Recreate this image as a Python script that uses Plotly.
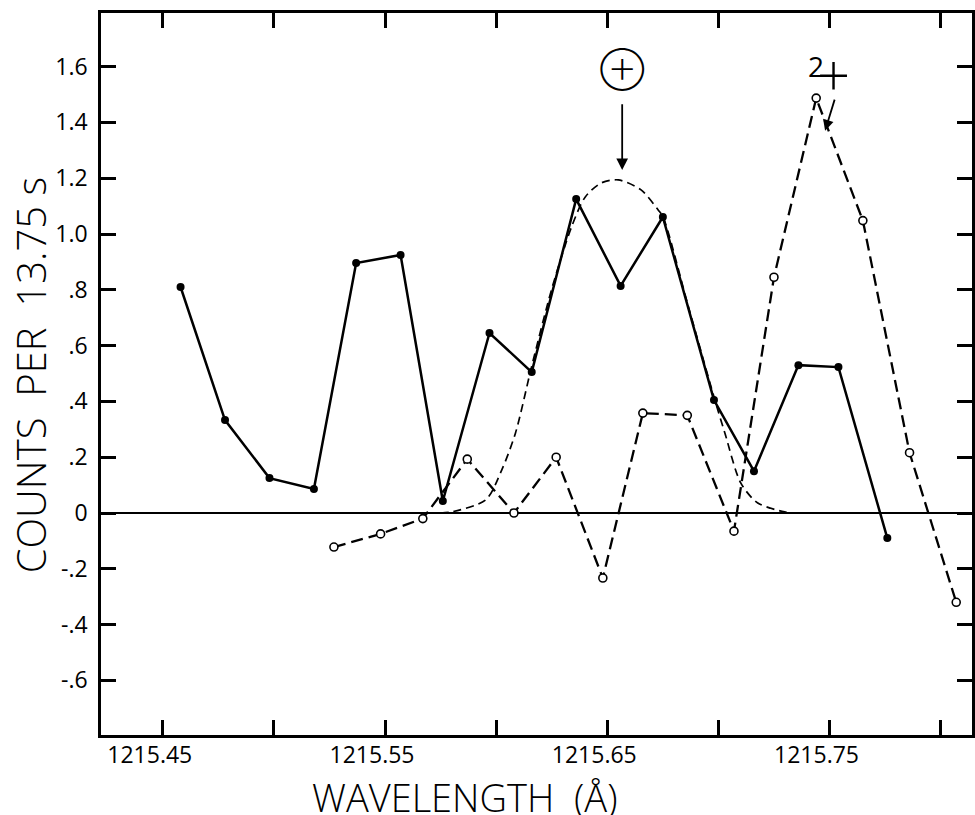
import plotly.graph_objects as go

# Filled points (solid line)
solid_x = [1215.458, 1215.478, 1215.498, 1215.518, 1215.537, 1215.557, 1215.576,
           1215.597, 1215.616, 1215.636, 1215.656, 1215.675, 1215.698, 1215.716,
           1215.736, 1215.754, 1215.776]
solid_y = [0.81, 0.333, 0.125, 0.086, 0.896, 0.925, 0.043,
           0.645, 0.505, 1.125, 0.814, 1.061, 0.405, 0.15,
           0.53, 0.523, -0.09]

# Open points (dashed line)
open_x = [1215.527, 1215.548, 1215.567, 1215.587, 1215.608, 1215.627, 1215.648,
          1215.666, 1215.686, 1215.707, 1215.725, 1215.744, 1215.765, 1215.786,
          1215.807]
open_y = [-0.122, -0.075, -0.02, 0.193, 0.0, 0.2, -0.233,
          0.358, 0.35, -0.065, 0.845, 1.487, 1.048, 0.216,
          -0.32]

# Fitted profile (fine dashed curve)
fit_x = [1215.575, 1215.580, 1215.5953, 1215.6025, 1215.6087, 1215.6159, 1215.6249,
         1215.6339, 1215.6401, 1215.6473, 1215.6549, 1215.6652, 1215.6729,
         1215.6751, 1215.6863, 1215.6984, 1215.7029, 1215.7101, 1215.7177,
         1215.7298, 1215.7343]
fit_y = [0.0, 0.004, 0.047, 0.154, 0.287, 0.523, 0.80,
         1.025, 1.133, 1.183, 1.194, 1.158, 1.086,
         1.061, 0.745, 0.405, 0.287, 0.107, 0.036,
         0.004, 0.0]

x_tickvals = [1215.45, 1215.50, 1215.55, 1215.60, 1215.65, 1215.70, 1215.75, 1215.80]
x_ticktext = ["1215.45", "", "1215.55", "", "1215.65", "", "1215.75", ""]
y_tickvals = [-0.6, -0.4, -0.2, 0, 0.2, 0.4, 0.6, 0.8, 1.0, 1.2, 1.4, 1.6]
y_ticktext = ["-.6", "-.4", "-.2", "0", ".2", ".4", ".6", ".8", "1.0", "1.2", "1.4", "1.6"]

FONT = "Open Sans, Noto Sans, sans-serif"

fig = go.Figure()
fig.add_trace(go.Scatter(
    x=fit_x, y=fit_y, mode="lines",
    line=dict(color="black", width=1.7, dash="8px,5px", shape="spline", smoothing=0.8),
    hoverinfo="skip", showlegend=False))
fig.add_trace(go.Scatter(
    x=open_x, y=open_y, mode="lines+markers",
    line=dict(color="black", width=2.3, dash="12px,6px"),
    marker=dict(symbol="circle", size=8, color="white", line=dict(color="black", width=1.6)),
    hoverinfo="skip", showlegend=False))
fig.add_trace(go.Scatter(
    x=solid_x, y=solid_y, mode="lines+markers",
    line=dict(color="black", width=2.5),
    marker=dict(symbol="circle", size=8, color="black"),
    hoverinfo="skip", showlegend=False))

axis_common = dict(
    showgrid=False, showline=True, linecolor="black", linewidth=2.5,
    ticks="inside", ticklen=15, tickwidth=2.5, tickcolor="black",
    mirror="ticks",
)
fig.update_xaxes(
    range=[1215.4222, 1215.8141], tickmode="array",
    tickvals=x_tickvals, ticktext=x_ticktext, zeroline=False,
    tickfont=dict(family=FONT, size=23, weight=400, color="black"),
    ticklabelshift=-13, ticklabelstandoff=-2, **axis_common)
fig.update_yaxes(
    range=[-0.7957, 1.7921], tickmode="array",
    tickvals=y_tickvals, ticktext=y_ticktext,
    zeroline=True, zerolinecolor="black", zerolinewidth=2,
    tickfont=dict(family=FONT, size=23, weight=400, color="black"),
    ticklabelstandoff=6, **axis_common)

annotations = [
    dict(text="⊕", x=1215.6567, y=1.591, xref="x", yref="y", showarrow=False,
         font=dict(family="Inter", size=32, weight=300, color="black"),
         xanchor="center", yanchor="middle"),
    dict(text="", x=1215.6567, y=1.229, ax=1215.6567, ay=1.47, xref="x", yref="y",
         axref="x", ayref="y", showarrow=True, arrowhead=2, arrowsize=1.3,
         arrowwidth=1.8, arrowcolor="black"),
    dict(text="2", x=1215.7437, y=1.602, xref="x", yref="y", showarrow=False,
         font=dict(family=FONT, size=28, weight=400, color="black"), xanchor="center", yanchor="middle"),
    dict(text="+", x=1215.7516, y=1.572, xref="x", yref="y", showarrow=False,
         font=dict(family=FONT, size=58, weight=300, color="black"), xanchor="center", yanchor="middle"),
    dict(text="", x=1215.7480, y=1.37, ax=1215.7525, ay=1.487, xref="x", yref="y",
         axref="x", ayref="y", showarrow=True, arrowhead=2, arrowsize=1.2,
         arrowwidth=1.8, arrowcolor="black"),
    dict(text="WAVELENGTH  (Å)", x=0.417, y=-0.0859, xref="paper", yref="paper",
         showarrow=False, font=dict(family=FONT, size=38, weight=300, color="black"),
         xanchor="center", yanchor="middle"),
    dict(text="COUNTS  PER  13.75 s", x=-0.0812, y=0.4986, xref="paper", yref="paper",
         showarrow=False, textangle=-90, font=dict(family=FONT, size=40, weight=300, color="black"),
         xanchor="center", yanchor="middle"),
]

fig.update_layout(
    width=975, height=815,
    margin=dict(l=101, r=0, t=13, b=80),
    paper_bgcolor="white", plot_bgcolor="white",
    annotations=annotations, showlegend=False,
)

fig.write_html("out.html", config={"displayModeBar": False},
               post_script="document.body.style.margin='0';")
